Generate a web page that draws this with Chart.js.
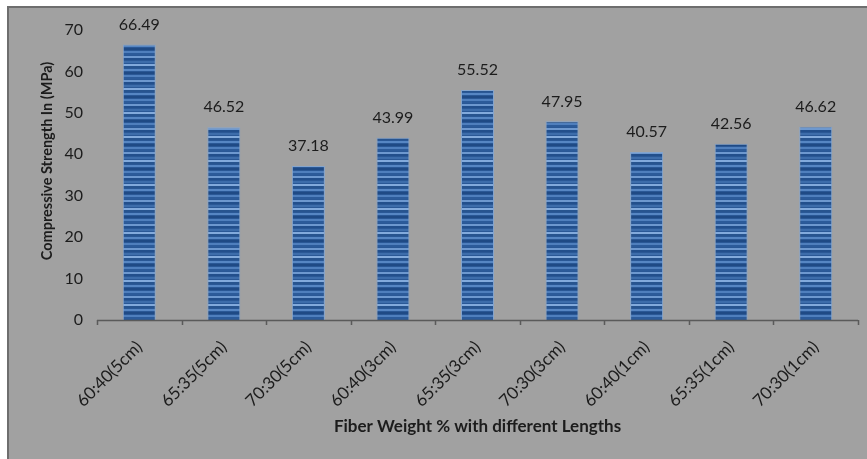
<!DOCTYPE html>
<html>
<head>
<meta charset="utf-8">
<script src="https://cdn.jsdelivr.net/npm/chart.js@4.4.1/dist/chart.umd.min.js"></script>
<style>
  html, body { margin: 0; padding: 0; background: #ffffff; }
  #wrap { width: 867px; height: 459px; position: relative; }
</style>
</head>
<body>
<div id="wrap"><canvas id="chart" width="867" height="459"></canvas></div>
<script>
// Fiber mix ratios and fiber lengths
const categories = ['60:40(5cm)', '65:35(5cm)', '70:30(5cm)', '60:40(3cm)', '65:35(3cm)', '70:30(3cm)', '60:40(1cm)', '65:35(1cm)', '70:30(1cm)'];
// Compressive strength (MPa)
const strength = [66.49, 46.52, 37.18, 43.99, 55.52, 47.95, 40.57, 42.56, 46.62];
const yTicks = [0, 10, 20, 30, 40, 50, 60, 70];
const yTitle = 'Compressive Strength In (MPa)';
const xTitle = 'Fiber Weight % with different Lengths';

const FONT = 'Lato, "Open Sans", sans-serif';
const TEXT = '#1c1c1c';

// Horizontal-stripe fill for the bars
function stripeFill() {
  const c = document.createElement('canvas');
  c.width = 8; c.height = 24;
  const g = c.getContext('2d');
  g.fillStyle = '#2a5896';
  g.fillRect(0, 0, 8, 24);
  const rows = [
    [0, '#1f4a85'], [3, '#4f7fbd'], [5, '#2c5b9a'], [8, '#6d98cf'],
    [10, '#224f8c'], [13, '#3d6dab'], [16, '#82aadc'], [18, '#27548f'],
    [21, '#5686c3']
  ];
  rows.forEach(([y, col]) => { g.fillStyle = col; g.fillRect(0, y, 8, 2); });
  return c;
}

// Grey panel with a dark top/left frame
const panel = {
  id: 'panel',
  beforeDraw(chart) {
    const ctx = chart.ctx;
    ctx.save();
    ctx.fillStyle = '#a1a1a1';
    ctx.fillRect(7, 6, chart.width - 7, chart.height - 6);
    ctx.strokeStyle = '#6e6e6e';
    ctx.lineWidth = 2;
    ctx.beginPath();
    ctx.moveTo(8, chart.height);
    ctx.lineTo(8, 7);
    ctx.lineTo(chart.width, 7);
    ctx.stroke();
    ctx.restore();
  }
};

// Value labels above each bar
const valueLabels = {
  id: 'valueLabels',
  afterDatasetsDraw(chart) {
    const ctx = chart.ctx;
    const meta = chart.getDatasetMeta(0);
    ctx.save();
    ctx.font = '16px ' + FONT;
    ctx.fillStyle = TEXT;
    ctx.textAlign = 'center';
    ctx.textBaseline = 'bottom';
    meta.data.forEach((bar, i) => {
      ctx.fillText(strength[i].toFixed(2), bar.x, bar.y - 12);
    });
    ctx.restore();
  }
};

// Category boundary tick marks, axis line and the vertical axis title
const axisExtras = {
  id: 'axisExtras',
  afterDraw(chart) {
    const ctx = chart.ctx;
    const area = chart.chartArea;
    const n = categories.length;
    const step = (area.right - area.left) / n;
    ctx.save();
    ctx.strokeStyle = '#5a5a5a';
    ctx.lineWidth = 1.5;
    ctx.beginPath();
    ctx.moveTo(area.left, area.bottom + 0.5);
    ctx.lineTo(area.right, area.bottom + 0.5);
    for (let i = 0; i <= n; i++) {
      const x = Math.round(area.left + i * step) + 0.5;
      ctx.moveTo(x, area.bottom);
      ctx.lineTo(x, area.bottom + 5);
    }
    ctx.stroke();

    ctx.translate(47, 161);
    ctx.rotate(-Math.PI / 2);
    ctx.font = 'bold 14.5px ' + FONT;
    ctx.fillStyle = TEXT;
    ctx.textAlign = 'center';
    ctx.textBaseline = 'middle';
    ctx.fillText(yTitle, 0, 0);
    ctx.restore();
  }
};

const ctx = document.getElementById('chart').getContext('2d');
const fill = ctx.createPattern(stripeFill(), 'repeat');

new Chart(ctx, {
  type: 'bar',
  data: {
    labels: categories,
    datasets: [{
      data: strength,
      backgroundColor: fill,
      borderColor: 'rgba(130,165,210,0.9)',
      borderWidth: 1,
      barPercentage: 0.39,
      categoryPercentage: 1.0
    }]
  },
  options: {
    responsive: false,
    animation: false,
    events: [],
    layout: { padding: { left: 30, right: 9, top: 30, bottom: 22 } },
    plugins: {
      legend: { display: false },
      tooltip: { enabled: false }
    },
    scales: {
      x: {
        grid: { display: false, drawTicks: false },
        border: { display: false },
        ticks: {
          color: TEXT,
          font: { family: FONT, size: 17 },
          maxRotation: 45,
          minRotation: 45,
          padding: 17
        },
        title: {
          display: true,
          text: xTitle,
          color: TEXT,
          font: { family: FONT, size: 17, weight: 'bold' },
          padding: { top: 0, bottom: 0 }
        },
        afterFit(scale) { scale.height = 117; }
      },
      y: {
        min: 0,
        max: 70,
        afterBuildTicks(scale) { scale.ticks = yTicks.map(v => ({ value: v })); },
        grid: { display: false, drawTicks: false },
        border: { display: false },
        ticks: {
          color: TEXT,
          font: { family: FONT, size: 16 },
          padding: 14
        },
        afterFit(scale) { scale.width = 67; }
      }
    }
  },
  plugins: [panel, valueLabels, axisExtras]
});
</script>
</body>
</html>
